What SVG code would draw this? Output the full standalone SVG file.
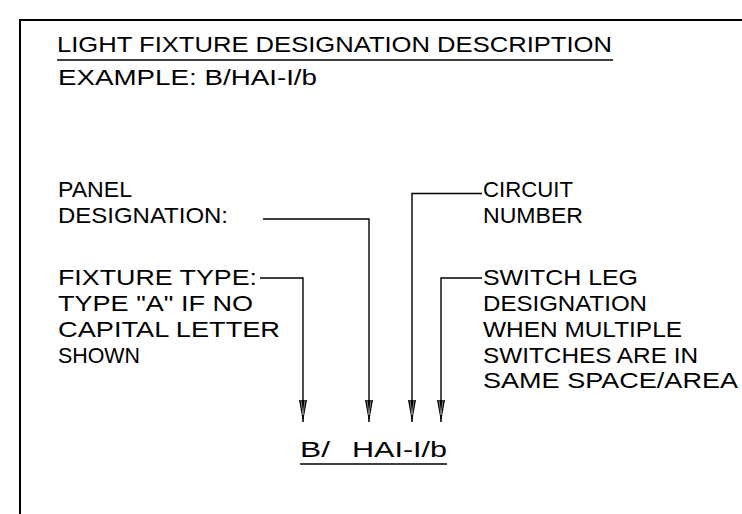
<svg xmlns="http://www.w3.org/2000/svg" width="742" height="514" viewBox="0 0 742 514">
<style>
text{font-family:"Liberation Sans",Arial,sans-serif;font-size:22px;fill:#000;}
.ln{fill:none;stroke:#000;stroke-width:1.4;}
.bd{fill:none;stroke:#000;stroke-width:2;}
</style>
<defs>
<marker id="ah" markerUnits="userSpaceOnUse" viewBox="0 -4.5 23 9" refX="22" refY="0" markerWidth="23" markerHeight="9" orient="auto">
<polygon points="0,-4 22,0 0,4" fill="#000"/>
<path d="M0,-2 L15,0 M0,2 L15,0" stroke="#fff" stroke-width="0.5" fill="none"/>
</marker>
</defs>
<rect class="bd" x="20" y="20" width="800" height="600"/>
<g id="title">
<text x="57" y="52" textLength="555" lengthAdjust="spacingAndGlyphs">LIGHT FIXTURE DESIGNATION DESCRIPTION</text>
<line class="ln" x1="57" y1="60" x2="613" y2="60"/>
<text x="58" y="85" textLength="259" lengthAdjust="spacingAndGlyphs">EXAMPLE: B/HAI-I/b</text>
</g>
<g id="panel">
<text x="58" y="197" textLength="74" lengthAdjust="spacingAndGlyphs">PANEL</text>
<text x="58" y="223" textLength="170" lengthAdjust="spacingAndGlyphs">DESIGNATION:</text>
</g>
<g id="fixture">
<text x="58" y="285" textLength="199" lengthAdjust="spacingAndGlyphs">FIXTURE TYPE:</text>
<text x="58" y="311" textLength="195" lengthAdjust="spacingAndGlyphs">TYPE "A" IF NO</text>
<text x="58" y="337" textLength="222" lengthAdjust="spacingAndGlyphs">CAPITAL LETTER</text>
<text x="58" y="363" textLength="82" lengthAdjust="spacingAndGlyphs">SHOWN</text>
</g>
<g id="circuit">
<text x="483" y="197" textLength="90" lengthAdjust="spacingAndGlyphs">CIRCUIT</text>
<text x="483" y="223" textLength="100" lengthAdjust="spacingAndGlyphs">NUMBER</text>
</g>
<g id="switchleg">
<text x="483" y="285" textLength="155" lengthAdjust="spacingAndGlyphs">SWITCH LEG</text>
<text x="483" y="311" textLength="164" lengthAdjust="spacingAndGlyphs">DESIGNATION</text>
<text x="483" y="337" textLength="199" lengthAdjust="spacingAndGlyphs">WHEN MULTIPLE</text>
<text x="483" y="363" textLength="215" lengthAdjust="spacingAndGlyphs">SWITCHES ARE IN</text>
<text x="483" y="388" textLength="255" lengthAdjust="spacingAndGlyphs">SAME SPACE/AREA</text>
</g>
<g id="example">
<text y="457"><tspan x="300" textLength="30" lengthAdjust="spacingAndGlyphs">B/</tspan> <tspan x="352" textLength="95" lengthAdjust="spacingAndGlyphs">HAI-I/b</tspan></text>
<line class="ln" x1="300" y1="464" x2="447" y2="464"/>
</g>
<g id="connectors">
<path class="ln" d="M263,219 H369 V422" marker-end="url(#ah)"/>
<path class="ln" d="M260,278 H303 V422" marker-end="url(#ah)"/>
<path class="ln" d="M482,193.5 H412 V422" marker-end="url(#ah)"/>
<path class="ln" d="M482,278 H441 V422" marker-end="url(#ah)"/>
</g>
</svg>
